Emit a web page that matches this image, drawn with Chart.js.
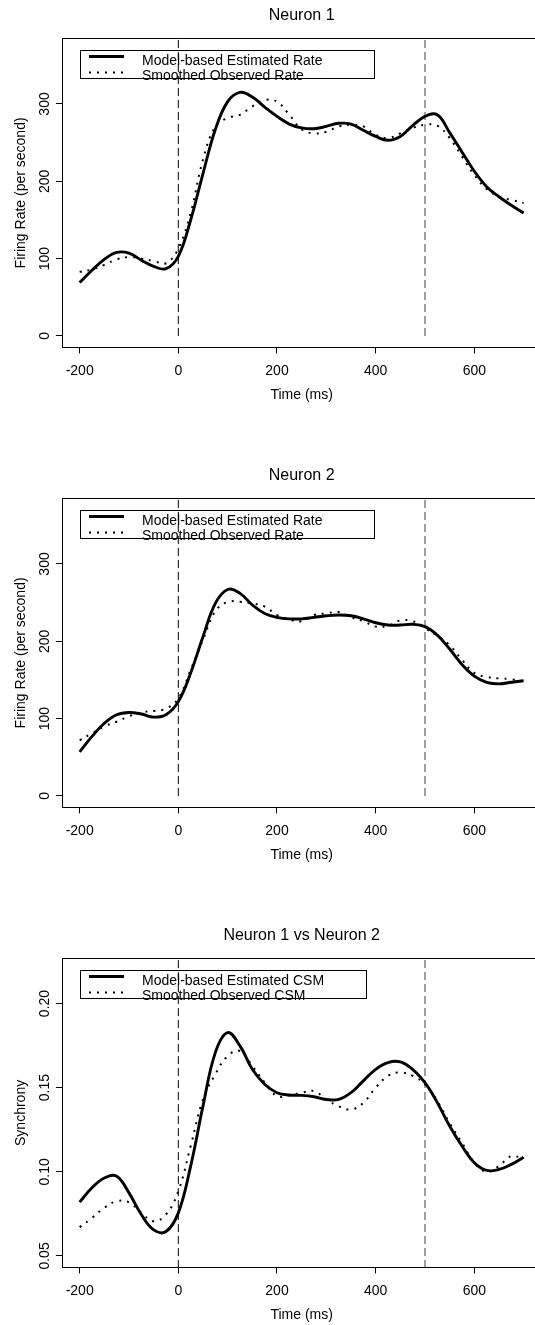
<!DOCTYPE html>
<html>
<head>
<meta charset="utf-8">
<title>Neuron firing rates and synchrony</title>
<script src="https://cdn.jsdelivr.net/npm/chart.js@4.4.1/dist/chart.umd.min.js"></script>
<style>
  html, body { margin: 0; padding: 0; background: #fff; }
  body { width: 535px; height: 1325px; overflow: hidden; position: relative; }
  canvas { position: absolute; left: 0; }
</style>
</head>
<body>
<canvas id="neuron1" width="560" height="461" style="top:0px"></canvas>
<canvas id="neuron2" width="560" height="461" style="top:460px"></canvas>
<canvas id="synchrony" width="560" height="461" style="top:920px"></canvas>
<script>
// time grid (ms) shared by every curve
const timeMs = [-200, -175, -150, -125, -100, -75, -50, -25, 0, 25, 50, 75, 100, 125, 150, 175, 200, 225, 250,
  275, 300, 325, 350, 375, 400, 425, 450, 475, 500, 525, 550, 575, 600, 625, 650, 675, 700];

// Neuron 1 firing rate (per second)
const n1Model = [69, 85, 99, 108, 107, 98, 90, 87, 103, 150, 210, 267, 303, 315, 309, 296, 284, 274, 269,
  268, 271, 275, 274, 266, 258, 253, 258, 272, 284, 286, 263, 238, 213, 193, 180, 169, 159];
const n1Observed = [83, 86, 92, 99, 102, 100, 97, 94, 113, 159, 228, 271, 282, 286, 297, 305, 303, 286, 267,
  262, 264, 271, 273, 271, 260, 256, 262, 269, 273, 272, 256, 232, 208, 190, 180, 176, 172];

// Neuron 2 firing rate (per second)
const n2Model = [57, 77, 94, 105, 108, 106, 102, 105, 122, 159, 206, 249, 267, 262, 247, 236, 231, 229, 229,
  231, 233, 234, 233, 229, 224, 221, 221, 222, 219, 208, 190, 170, 155, 147, 145, 147, 149];
const n2Observed = [72, 81, 90, 96, 103, 108, 110, 113, 126, 163, 202, 239, 251, 251, 249, 245, 234, 228, 226,
  234, 236, 238, 231, 226, 219, 220, 227, 226, 217, 207, 195, 176, 159, 154, 152, 151, 148];

// Neuron 1 vs Neuron 2 synchrony (CSM)
const csmModel = [0.082, 0.0905, 0.0963, 0.0974, 0.0875, 0.0746, 0.0655, 0.0645, 0.0756, 0.1034, 0.139, 0.1708,
  0.1827, 0.1748, 0.1609, 0.152, 0.147, 0.1456, 0.1454, 0.1446, 0.143, 0.143, 0.147, 0.154, 0.1609, 0.1649,
  0.1653, 0.1609, 0.153, 0.1411, 0.1272, 0.1153, 0.1054, 0.1008, 0.1014, 0.1044, 0.1087];
const csmObserved = [0.0671, 0.0726, 0.0786, 0.0825, 0.0819, 0.0756, 0.0706, 0.0746, 0.0885, 0.1153, 0.143, 0.158,
  0.1688, 0.1718, 0.1629, 0.153, 0.145, 0.1454, 0.147, 0.148, 0.143, 0.139, 0.137, 0.141, 0.15, 0.157,
  0.159, 0.157, 0.152, 0.142, 0.129, 0.1173, 0.1054, 0.1, 0.1034, 0.1093, 0.1077];

// dashed reference lines (stimulus on / off)
const markerTimes = [0, 500];

const xTicks = [-200, 0, 200, 400, 600];
const xTickLabels = ['-200', '0', '200', '400', '600'];
const rateTicks = [0, 100, 200, 300];
const rateTickLabels = ['0', '100', '200', '300'];
const csmTicks = [0.05, 0.10, 0.15, 0.20];
const csmTickLabels = ['0.05', '0.10', '0.15', '0.20'];

const rateLabels = ['Model-based Estimated Rate', 'Smoothed Observed Rate'];
const csmLabels = ['Model-based Estimated CSM', 'Smoothed Observed CSM'];

const FONT = '"Liberation Sans", Arial, Helvetica, sans-serif';
Chart.defaults.font.family = FONT;
Chart.defaults.color = '#000';

// full plot frame like R's box()
const frameBox = {
  id: 'frameBox',
  afterDatasetsDraw(chart) {
    const { ctx, chartArea: a } = chart;
    ctx.save();
    ctx.strokeStyle = '#000';
    ctx.lineWidth = 1;
    ctx.strokeRect(Math.round(a.left) + 0.5, Math.round(a.top) + 0.5,
      Math.round(a.right - a.left), Math.round(a.bottom - a.top));
    ctx.restore();
  }
};

// R style boxed legend in the top-left corner
const rLegend = {
  id: 'rLegend',
  afterDatasetsDraw(chart, args, o) {
    const ctx = chart.ctx;
    ctx.save();
    ctx.strokeStyle = '#000';
    ctx.lineWidth = 1;
    ctx.setLineDash([]);
    ctx.strokeRect(o.left, o.top, o.right - o.left, o.bottom - o.top);
    ctx.font = '14px ' + FONT;
    ctx.fillStyle = '#000';
    ctx.textAlign = 'left';
    ctx.textBaseline = 'alphabetic';
    [0, 1].forEach(i => {
      const ds = chart.data.datasets[i];
      ctx.strokeStyle = ds.borderColor;
      ctx.lineWidth = ds.borderWidth;
      ctx.setLineDash(ds.borderDash || []);
      ctx.beginPath();
      ctx.moveTo(o.sampleFrom, o.rows[i]);
      ctx.lineTo(o.sampleTo, o.rows[i]);
      ctx.stroke();
      ctx.fillText(ds.label, o.textX, o.baselines[i]);
    });
    ctx.restore();
  }
};

function makePanel(id, p) {
  const pts = vals => timeMs.map((t, i) => ({ x: t, y: vals[i] }));
  const marker = t => [{ x: t, y: p.markerFrom }, { x: t, y: p.markerTo }];
  return new Chart(document.getElementById(id), {
    type: 'line',
    data: {
      datasets: [
        { label: p.labels[0], data: pts(p.model), borderColor: '#000', borderWidth: 2.9,
          pointRadius: 0, tension: 0.4 },
        { label: p.labels[1], data: pts(p.observed), borderColor: '#000', borderWidth: 2,
          borderDash: [2, 6], pointRadius: 0, tension: 0.4 },
        { label: 'onset', data: marker(markerTimes[0]), borderColor: '#000', borderWidth: 1,
          borderDash: [8, 4], pointRadius: 0 },
        { label: 'offset', data: marker(markerTimes[1]), borderColor: '#808080', borderWidth: 1.5,
          borderDash: [8, 4], pointRadius: 0 }
      ]
    },
    options: {
      responsive: false,
      animation: false,
      devicePixelRatio: 1,
      layout: { padding: { left: 0, right: 18.6, top: 0, bottom: 57.6 } },
      plugins: {
        legend: { display: false },
        tooltip: { enabled: false },
        title: {
          display: true, text: p.title, fullSize: false, color: '#000',
          font: { size: 16, weight: 'normal' }, padding: { top: 6.4, bottom: 12.8 }
        },
        rLegend: {
          left: 80.5, top: 50.5, right: p.legendRight, bottom: 78.5,
          sampleFrom: 89, sampleTo: 124, rows: [56.5, 72.5], textX: 142, baselines: [64.5, 80]
        }
      },
      scales: {
        x: {
          type: 'linear', min: -236, max: 736,
          afterBuildTicks: s => { s.ticks = xTicks.map(v => ({ value: v })); },
          afterFit: s => { s.height = 56; },
          border: { display: false },
          grid: { drawOnChartArea: false, drawTicks: true, tickLength: 6, color: '#000', lineWidth: 1 },
          ticks: { color: '#000', font: { size: 14 }, padding: 8.9, maxRotation: 0, autoSkip: false,
            callback: (v, i) => xTickLabels[i] },
          title: { display: true, text: 'Time (ms)', color: '#000', font: { size: 14 },
            padding: { top: 0, bottom: 0 } }
        },
        y: {
          type: 'linear', min: p.yMin, max: p.yMax,
          afterBuildTicks: s => { s.ticks = p.yTicks.map(v => ({ value: v })); },
          afterFit: s => { s.width = 61.9; },
          border: { display: false },
          grid: { drawOnChartArea: false, drawTicks: true, tickLength: 6, color: '#000', lineWidth: 1 },
          ticks: { color: '#000', font: { size: 14 }, minRotation: 90, maxRotation: 90,
            crossAlign: 'center', padding: p.yPad, autoSkip: false,
            callback: (v, i) => p.yTickLabels[i] },
          title: { display: true, text: p.yTitle, color: '#000', font: { size: 14 },
            padding: { top: 12.3, bottom: 0 } }
        }
      }
    },
    plugins: [frameBox, rLegend]
  });
}

makePanel('neuron1', {
  title: 'Neuron 1', labels: rateLabels, model: n1Model, observed: n1Observed,
  yMin: -14.8, yMax: 384.8, yTicks: rateTicks, yTickLabels: rateTickLabels, yPad: -0.8,
  yTitle: 'Firing Rate (per second)', markerFrom: 0, markerTo: 400, legendRight: 374.5
});
makePanel('neuron2', {
  title: 'Neuron 2', labels: rateLabels, model: n2Model, observed: n2Observed,
  yMin: -14.8, yMax: 384.8, yTicks: rateTicks, yTickLabels: rateTickLabels, yPad: -0.8,
  yTitle: 'Firing Rate (per second)', markerFrom: 0, markerTo: 400, legendRight: 374.5
});
makePanel('synchrony', {
  title: 'Neuron 1 vs Neuron 2', labels: csmLabels, model: csmModel, observed: csmObserved,
  yMin: 0.0432, yMax: 0.2268, yTicks: csmTicks, yTickLabels: csmTickLabels, yPad: -2.7,
  yTitle: 'Synchrony', markerFrom: 0, markerTo: 1, legendRight: 366.5
});
</script>
</body>
</html>
